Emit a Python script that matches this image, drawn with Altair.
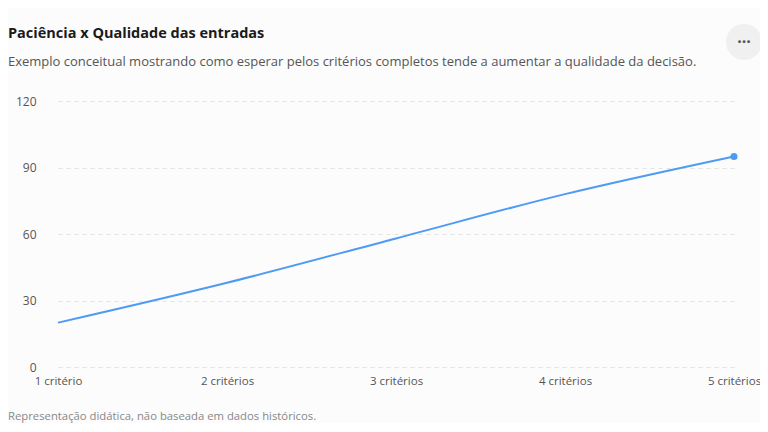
import altair as alt
import pandas as pd

categories = ["1 critério", "2 critérios", "3 critérios", "4 critérios", "5 critérios"]
quality = [20, 38, 58, 78, 95]
y_ticks = [0, 30, 60, 90, 120]

title_text = "Paciência x Qualidade das entradas"
subtitle_text = "Exemplo conceitual mostrando como esperar pelos critérios completos tende a aumentar a qualidade da decisão."
footer_text = "Representação didática, não baseada em dados históricos."

FONT = "Open Sans"
LINE_COLOR = "#4d9bf2"

df = pd.DataFrame({"cat": categories, "q": quality})
last = df.iloc[[-1]]

x_enc = alt.X(
    "cat:N",
    sort=categories,
    scale=alt.Scale(type="point", range=[12, 688], padding=0),
    axis=alt.Axis(
        title=None, labelAngle=0, ticks=False, domain=False, grid=False,
        labelFont=FONT, labelFontSize=11.5, labelColor="#555555", labelPadding=8,
    ),
)
y_enc = alt.Y(
    "q:Q",
    scale=alt.Scale(domain=[0, 120], nice=False),
    axis=alt.Axis(
        title=None, values=y_ticks, ticks=False, domain=False,
        labelFont=FONT, labelFontSize=12, labelColor="#555555", labelPadding=10,
        grid=True, gridColor="#e3e3e3", gridDash=[4, 4], gridWidth=1,
    ),
)

line = alt.Chart(df).mark_line(
    color=LINE_COLOR, strokeWidth=2, interpolate="monotone"
).encode(x=x_enc, y=y_enc)

dot = alt.Chart(last).mark_point(
    filled=True, color=LINE_COLOR, size=50, opacity=1
).encode(x=alt.X("cat:N", sort=categories), y="q:Q")

one = pd.DataFrame({"k": [0]})

title = alt.Chart(one).mark_text(
    text=title_text, align="left", baseline="alphabetic",
    font=FONT, fontSize=14.5, fontWeight="bold", color="#1a1a1a",
).encode(x=alt.value(-38), y=alt.value(-63))

subtitle = alt.Chart(one).mark_text(
    text=subtitle_text, align="left", baseline="alphabetic",
    font=FONT, fontSize=13, color="#555555",
).encode(x=alt.value(-38), y=alt.value(-35))

footer = alt.Chart(one).mark_text(
    text=footer_text, align="left", baseline="alphabetic",
    font=FONT, fontSize=11.3, color="#888888",
).encode(x=alt.value(-38), y=alt.value(319))

button = alt.Chart(one).mark_point(
    shape="circle", filled=True, color="#f0f0f0", size=1296, opacity=1
).encode(x=alt.value(698), y=alt.value(-59))

button_dots = alt.Chart(one).mark_text(
    text="···", align="center", baseline="middle",
    font=FONT, fontSize=16, fontWeight="bold", color="#555555",
).encode(x=alt.value(698), y=alt.value(-59))

chart = alt.layer(
    line, dot, title, subtitle, footer, button, button_dots
).properties(
    width=706, height=266,
    autosize=alt.AutoSizeParams(type="none"),
    padding={"left": 38, "top": 93, "right": 8, "bottom": 56},
    background="#fcfcfc",
).configure_view(stroke=None)

chart.save("out.html", embed_options={"renderer": "svg", "actions": False})
